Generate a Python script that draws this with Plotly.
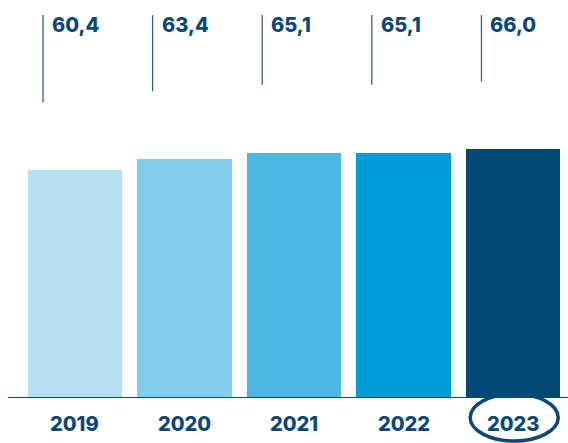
import plotly.graph_objects as go

years = ["2019", "2020", "2021", "2022", "2023"]
values = [60.4, 63.4, 65.1, 65.1, 66.0]
value_labels = ["60,4", "63,4", "65,1", "65,1", "66,0"]
colors = ["#b3e0f3", "#80cdec", "#4db7e3", "#009bd8", "#004876"]

NAVY = "#0b4777"
FONT = "Inter"
xs = list(range(len(years)))

fig = go.Figure()
fig.add_trace(go.Bar(
    x=xs, y=values, width=0.86,
    marker=dict(color=colors, line=dict(width=0)),
    hoverinfo="skip", showlegend=False,
))

Y_TOP = 101.6
for i, (v, lab) in enumerate(zip(values, value_labels)):
    fig.add_shape(type="line", xref="x", yref="y",
                  x0=i - 0.29, x1=i - 0.29, y0=v + 18, y1=Y_TOP,
                  line=dict(color="#2f6290", width=1.3))
    fig.add_annotation(x=i - 0.29, y=98.9, xref="x", yref="y",
                       text=lab, showarrow=False,
                       xanchor="left", yanchor="middle", xshift=7,
                       font=dict(family=FONT, size=20, color=NAVY, weight=800))
    fig.add_annotation(x=i, y=0, xref="x", yref="y",
                       text=years[i], showarrow=False,
                       xanchor="center", yanchor="middle", yshift=-26,
                       font=dict(family=FONT, size=20, color=NAVY, weight=800))

# baseline
fig.add_shape(type="line", xref="paper", yref="y",
              x0=-0.022, x1=1.0, y0=0, y1=0,
              line=dict(color=NAVY, width=2))

# hand-drawn circle around the latest year
n = len(years)
fig.add_shape(type="circle", xref="paper", yref="paper",
              xsizemode="pixel", ysizemode="pixel",
              xanchor=(n - 1 + 0.5) / n, yanchor=0,
              x0=-43, x1=45, y0=4, y1=-43,
              line=dict(color=NAVY, width=3.5))

fig.update_layout(
    width=568, height=443,
    margin=dict(l=20, r=0, t=0, b=45),
    paper_bgcolor="white", plot_bgcolor="white",
    xaxis=dict(range=[-0.5, 4.5], showticklabels=False, showgrid=False,
               zeroline=False, showline=False, ticks=""),
    yaxis=dict(range=[0, 105.6], visible=False, showgrid=False, zeroline=False),
    bargap=0,
)

fig.write_html("out.html")
